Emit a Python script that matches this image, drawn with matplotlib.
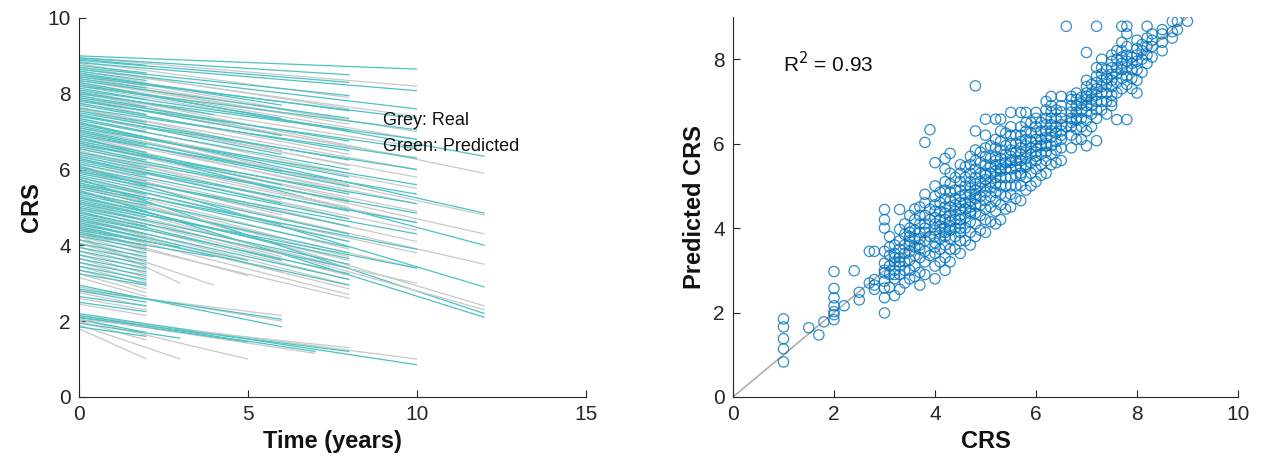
import matplotlib
matplotlib.use("Agg")
import matplotlib.pyplot as plt

plt.rcParams['font.family'] = ['Liberation Sans', 'DejaVu Sans']

# ---------------- Left panel data: per patient trajectories ----------------
end_time = [10, 8, 2, 8, 10, 2, 8, 10, 2, 6, 8, 10, 2, 8, 12, 6, 10, 2, 8, 4,
            10, 2, 8, 6, 10, 2, 8, 10, 2, 8, 6, 10, 2, 8, 12, 2, 8, 10, 6, 2,
            8, 10, 12, 2, 8, 6, 10, 2, 8, 10, 2, 8, 6, 10, 2, 8, 12, 2, 8, 10,
            2, 8, 6, 12, 2, 8, 10, 2, 8, 12, 2, 8, 6, 2, 8, 10, 2, 8, 2, 8,
            6, 2, 8, 2, 8, 2, 5, 2, 8, 2, 3, 2, 4, 2, 2, 2, 2, 2, 2, 2,
            2, 2, 2, 2, 6, 6, 2, 2, 2, 10, 7, 5, 2, 3, 2, 8]
pred_start = [9.00, 8.95, 8.92, 8.88, 8.82, 8.75, 8.70, 8.65, 8.60, 8.55,
              8.50, 8.45, 8.40, 8.35, 8.30, 8.25, 8.20, 8.15, 8.10, 8.05,
              8.00, 7.95, 7.90, 7.85, 7.80, 7.75, 7.70, 7.62, 7.55, 7.50,
              7.45, 7.40, 7.35, 7.30, 7.25, 7.20, 7.15, 7.10, 7.05, 7.00,
              6.95, 6.90, 6.85, 6.80, 6.75, 6.70, 6.65, 6.60, 6.55, 6.45,
              6.40, 6.35, 6.30, 6.25, 6.20, 6.15, 6.10, 6.05, 6.00, 5.95,
              5.90, 5.85, 5.80, 5.75, 5.70, 5.65, 5.60, 5.55, 5.50, 5.45,
              5.40, 5.35, 5.30, 5.25, 5.20, 5.15, 5.10, 5.05, 5.00, 4.95,
              4.90, 4.85, 4.80, 4.75, 4.70, 4.65, 4.60, 4.55, 4.50, 4.45,
              4.40, 4.35, 4.30, 4.25, 4.15, 4.05, 3.95, 3.85, 3.75, 3.65,
              3.55, 3.45, 3.35, 3.25, 2.95, 2.85, 2.80, 2.65, 2.50, 2.20,
              2.15, 2.10, 2.05, 1.95, 1.85, 2.10]
pred_end = [8.65, 8.50, 8.75, 8.30, 8.08, 8.55, 7.95, 7.60, 8.35, 7.70,
            7.55, 7.35, 8.15, 7.35, 6.35, 7.35, 7.05, 7.85, 7.05, 7.45,
            6.80, 7.65, 6.75, 6.90, 6.55, 7.45, 6.50, 6.30, 7.25, 6.25,
            6.40, 6.00, 7.00, 6.00, 4.85, 6.85, 5.80, 5.60, 5.95, 6.65,
            5.55, 5.35, 4.00, 6.45, 5.35, 5.60, 5.10, 6.25, 5.15, 4.85,
            6.05, 4.90, 5.10, 4.60, 5.85, 4.70, 2.90, 5.70, 4.50, 4.30,
            5.55, 4.30, 4.55, 2.20, 5.35, 4.10, 3.90, 5.20, 3.95, 2.10,
            5.05, 3.80, 4.00, 4.90, 3.65, 3.40, 4.75, 3.50, 4.65, 3.40,
            3.60, 4.50, 3.25, 4.40, 3.10, 4.30, 3.60, 4.20, 2.95, 4.10,
            3.95, 4.00, 3.70, 3.90, 3.80, 3.70, 3.60, 3.50, 3.40, 3.30,
            3.20, 3.10, 3.00, 2.95, 1.85, 2.05, 2.50, 2.40, 2.25, 0.85,
            1.20, 1.45, 1.70, 1.55, 1.60, 1.20]
real_start = [8.95, 8.85, 8.80, 8.70, 8.65, 8.60, 8.55, 8.45, 8.50, 8.40,
              8.35, 8.30, 8.25, 8.20, 8.10, 8.05, 8.00, 8.05, 7.95, 7.90,
              7.85, 7.85, 7.75, 7.65, 7.60, 7.60, 7.55, 7.45, 7.45, 7.35,
              7.25, 7.20, 7.25, 7.10, 7.10, 7.05, 7.00, 6.90, 6.85, 6.90,
              6.75, 6.70, 6.70, 6.65, 6.55, 6.50, 6.45, 6.50, 6.35, 6.25,
              6.30, 6.15, 6.10, 6.05, 6.05, 5.95, 5.95, 5.95, 5.80, 5.75,
              5.80, 5.65, 5.60, 5.60, 5.55, 5.45, 5.40, 5.45, 5.30, 5.30,
              5.25, 5.15, 5.10, 5.15, 5.00, 4.95, 5.00, 4.85, 4.90, 4.75,
              4.70, 4.75, 4.60, 4.65, 4.50, 4.55, 4.40, 4.45, 4.30, 4.35,
              4.25, 4.25, 4.15, 4.15, 4.05, 3.95, 3.85, 3.75, 3.65, 3.55,
              3.45, 3.35, 3.25, 3.15, 2.90, 2.80, 2.75, 2.60, 2.45, 2.15,
              2.10, 2.05, 2.00, 1.90, 1.80, 2.05]
real_end = [8.20, 7.90, 8.50, 7.60, 7.40, 8.30, 7.30, 7.00, 8.20, 7.50,
            7.20, 6.80, 7.95, 7.00, 5.90, 6.90, 6.60, 7.65, 6.60, 7.20,
            6.30, 7.45, 6.40, 6.50, 6.00, 7.20, 6.10, 5.80, 7.05, 5.90,
            6.00, 5.50, 6.80, 5.60, 4.80, 6.60, 5.40, 5.10, 5.60, 6.45,
            5.20, 4.90, 4.30, 6.20, 5.00, 5.20, 4.60, 6.00, 4.70, 4.40,
            5.80, 4.50, 4.80, 4.10, 5.60, 4.30, 3.50, 5.50, 4.10, 3.80,
            5.30, 3.90, 4.20, 2.40, 5.10, 3.70, 3.40, 4.95, 3.60, 2.30,
            4.80, 3.40, 3.70, 4.65, 3.20, 3.00, 4.50, 3.10, 4.40, 2.95,
            3.30, 4.25, 2.85, 4.15, 2.70, 4.05, 3.20, 3.95, 2.60, 3.85,
            3.00, 3.75, 2.95, 3.65, 3.55, 3.45, 3.35, 3.25, 3.15, 3.05,
            2.95, 2.85, 2.75, 2.65, 2.00, 2.15, 2.40, 2.30, 2.15, 1.00,
            1.15, 1.00, 1.50, 1.00, 1.00, 1.30]

# ---------------- Right panel data: real vs predicted CRS ----------------
crs_levels = [1.0, 1.5, 1.7, 1.8, 2.0, 2.2, 2.4, 2.5, 2.7, 2.8,
              3.0, 3.1, 3.2, 3.3, 3.4, 3.5, 3.6, 3.7, 3.8, 3.9,
              4.0, 4.1, 4.2, 4.3, 4.4, 4.5, 4.6, 4.7, 4.8, 4.9,
              5.0, 5.1, 5.2, 5.3, 5.4, 5.5, 5.6, 5.7, 5.8, 5.9,
              6.0, 6.1, 6.2, 6.3, 6.4, 6.5, 6.6, 6.7, 6.8, 6.9,
              7.0, 7.1, 7.2, 7.3, 7.4, 7.5, 7.6, 7.7, 7.8, 7.9,
              8.0, 8.1, 8.2, 8.3, 8.5, 8.7, 8.8, 9.0]
pred_by_level = [
    [0.83, 1.14, 1.38, 1.66, 1.85],
    [1.64],
    [1.47],
    [1.78],
    [1.83, 1.95, 2.02, 2.16, 2.35, 2.57, 2.97],
    [2.16],
    [2.99],
    [2.30, 2.48],
    [3.45, 2.70],
    [2.55, 2.78, 3.45, 2.65],
    [1.99, 2.35, 2.58, 2.74, 2.94, 3.17, 3.45, 3.00, 4.00, 4.20, 4.44],
    [2.60, 2.90, 3.10, 3.35, 3.55, 3.80],
    [2.40, 2.80, 3.00, 3.20, 3.40, 3.60, 3.30, 2.90],
    [2.55, 2.90, 3.10, 3.30, 3.50, 3.70, 3.97, 4.44, 3.20],
    [2.70, 3.00, 3.20, 3.40, 3.60, 3.85, 4.10],
    [2.80, 3.00, 3.25, 3.45, 3.60, 3.80, 4.00, 4.30, 3.90, 3.70],
    [2.85, 3.10, 3.35, 3.55, 3.75, 3.95, 4.20, 4.45],
    [2.65, 2.95, 3.30, 3.50, 3.75, 3.90, 4.10, 4.30, 4.50, 3.60],
    [2.90, 3.20, 3.45, 3.70, 3.90, 4.10, 4.30, 4.60, 4.80, 6.03, 4.00],
    [6.33, 3.80, 4.20, 4.45, 3.35],
    [2.80, 3.10, 3.40, 3.65, 3.80, 3.95, 4.10, 4.25, 4.40, 4.55, 4.75, 5.00, 5.55, 3.55],
    [3.20, 3.50, 3.75, 3.90, 4.05, 4.20, 4.40, 4.60, 4.85],
    [3.00, 3.30, 3.60, 3.80, 4.00, 4.20, 4.35, 4.50, 4.70, 4.90, 5.10, 5.40, 5.65, 3.90],
    [3.20, 3.50, 3.75, 3.95, 4.15, 4.30, 4.50, 4.65, 4.85, 5.05, 5.30, 5.77, 4.05],
    [3.50, 3.80, 4.00, 4.20, 4.40, 4.55, 4.70, 4.90, 5.20],
    [3.40, 3.70, 3.90, 4.10, 4.30, 4.45, 4.60, 4.75, 4.90, 5.10, 5.30, 5.50, 4.20, 4.00],
    [3.70, 4.00, 4.25, 4.45, 4.60, 4.80, 5.00, 5.20, 5.45],
    [3.60, 3.90, 4.15, 4.35, 4.50, 4.65, 4.80, 4.95, 5.10, 5.30, 5.50, 5.70, 4.40],
    [3.80, 4.10, 4.35, 4.55, 4.70, 4.90, 5.05, 5.20, 5.40, 5.60, 5.85, 6.30, 7.37, 4.80],
    [3.95, 4.30, 4.55, 4.75, 4.95, 5.10, 5.30, 5.55, 5.80],
    [3.90, 4.20, 4.45, 4.65, 4.85, 5.00, 5.15, 5.30, 5.50, 5.70, 5.90, 6.20, 6.58, 5.25],
    [4.15, 4.50, 4.75, 4.95, 5.10, 5.30, 5.45, 5.65, 5.95],
    [4.10, 4.40, 4.65, 4.85, 5.05, 5.20, 5.35, 5.50, 5.70, 5.90, 6.10, 6.58, 5.60],
    [4.20, 4.55, 4.80, 5.00, 5.20, 5.35, 5.50, 5.65, 5.85, 6.05, 6.30, 6.58, 5.40],
    [4.45, 4.75, 5.00, 5.20, 5.40, 5.55, 5.75, 5.95, 6.25],
    [4.50, 4.80, 5.00, 5.20, 5.40, 5.55, 5.70, 5.85, 6.00, 6.20, 6.40, 6.74, 5.60],
    [4.70, 5.00, 5.25, 5.45, 5.60, 5.80, 6.00, 6.20],
    [4.65, 5.00, 5.25, 5.45, 5.60, 5.75, 5.90, 6.05, 6.20, 6.40, 6.74, 5.30],
    [4.90, 5.20, 5.45, 5.65, 5.80, 5.95, 6.10, 6.30, 6.50, 6.74, 5.50],
    [5.00, 5.30, 5.55, 5.75, 5.90, 6.05, 6.25, 6.50],
    [5.10, 5.40, 5.60, 5.80, 5.95, 6.10, 6.25, 6.40, 6.60, 6.74, 5.70],
    [5.25, 5.50, 5.75, 5.95, 6.10, 6.30, 6.50],
    [5.30, 5.60, 5.80, 6.00, 6.15, 6.30, 6.45, 6.60, 6.80, 7.00, 5.95],
    [5.50, 5.75, 5.95, 6.15, 6.30, 6.45, 6.60, 6.75, 6.90, 7.12],
    [5.55, 5.85, 6.05, 6.25, 6.40, 6.60, 6.80],
    [5.60, 5.90, 6.10, 6.30, 6.45, 6.60, 6.75, 6.90, 7.12, 6.20],
    [8.78, 6.40],
    [5.90, 6.20, 6.40, 6.60, 6.75, 6.90, 7.05, 7.12, 6.50],
    [6.10, 6.35, 6.55, 6.75, 6.90, 7.05, 7.20, 6.60],
    [6.10, 6.40, 6.60, 6.80, 6.95, 7.10],
    [5.95, 6.30, 6.55, 6.75, 6.90, 7.05, 7.20, 7.35, 7.50, 8.16, 7.12],
    [6.40, 6.70, 6.90, 7.05, 7.20, 7.40],
    [6.07, 6.60, 6.80, 7.00, 7.15, 7.30, 7.45, 7.60, 7.80, 8.78],
    [6.80, 7.00, 7.20, 7.35, 7.50, 7.65, 7.80, 8.00],
    [6.70, 7.00, 7.20, 7.40, 7.55, 7.75],
    [6.90, 7.15, 7.35, 7.50, 7.65, 7.80, 7.95, 8.10, 7.00],
    [6.57, 7.20, 7.45, 7.65, 7.80, 8.00, 8.20],
    [7.30, 7.55, 7.75, 7.90, 8.05, 8.20, 8.40, 8.78],
    [6.57, 7.40, 7.60, 7.80, 7.95, 8.10, 8.30, 8.60, 8.78],
    [7.30, 7.55, 7.75, 7.90, 8.05],
    [7.50, 7.75, 7.95, 8.10, 8.25, 8.45, 7.20],
    [7.69, 8.00, 8.20, 8.35],
    [7.90, 8.10, 8.30, 8.50, 8.78],
    [8.05, 8.30, 8.45, 8.60],
    [8.20, 8.40, 8.60, 8.70],
    [8.50, 8.65, 8.90],
    [8.90, 8.70],
    [8.90],
]
r2_text = "R$^2$ = 0.93"

TEAL = '#4CC2C2'
GREY = '#C9C9C9'
BLUE = '#0072BD'
AX = '#262626'

fig = plt.figure(figsize=(12.64, 4.73), dpi=100)
ax1 = fig.add_axes([0.0625, 0.1607, 0.4011, 0.8013])
ax2 = fig.add_axes([0.5799, 0.1607, 0.3995, 0.8034])

for i in range(len(end_time)):
    ax1.plot([0, end_time[i]], [real_start[i], real_end[i]], color=GREY, lw=0.9, solid_capstyle='butt')
    ax1.plot([0, end_time[i]], [pred_start[i], pred_end[i]], color=TEAL, lw=0.9, solid_capstyle='butt')

ax1.set_xlim(0, 15)
ax1.set_ylim(0, 10)
ax1.set_xticks([0, 5, 10, 15])
ax1.set_yticks([0, 2, 4, 6, 8, 10])
ax1.set_xlabel('Time (years)', fontsize=17, fontweight='bold', color='#111111', labelpad=4)
ax1.set_ylabel('CRS', fontsize=17, fontweight='bold', color='#111111', labelpad=3)
ax1.text(9.0, 7.3, 'Grey: Real', fontsize=13, color='#111111', ha='left', va='center')
ax1.text(9.0, 6.62, 'Green: Predicted', fontsize=13, color='#111111', ha='left', va='center')

xs, ys = [], []
for lvl, preds in zip(crs_levels, pred_by_level):
    for p in preds:
        xs.append(lvl)
        ys.append(p)
ax2.plot([0, 9], [0, 9], color='#AFAFAF', lw=1.2, zorder=1)
ax2.scatter(xs, ys, s=55, facecolors='none', edgecolors=BLUE, linewidths=0.9, alpha=0.8, zorder=2)
ax2.set_xlim(0, 10)
ax2.set_ylim(0, 9)
ax2.set_xticks([0, 2, 4, 6, 8, 10])
ax2.set_yticks([0, 2, 4, 6, 8])
ax2.set_xlabel('CRS', fontsize=17, fontweight='bold', color='#111111', labelpad=4)
ax2.set_ylabel('Predicted CRS', fontsize=17, fontweight='bold', color='#111111', labelpad=5)
ax2.text(1.0, 7.9, r2_text, fontsize=15, color='#111111', ha='left', va='center')

for ax in (ax1, ax2):
    for s in ('top', 'right'):
        ax.spines[s].set_visible(False)
    for s in ('left', 'bottom'):
        ax.spines[s].set_color(AX)
        ax.spines[s].set_linewidth(0.8)
    ax.tick_params(direction='in', length=5, width=0.8, colors=AX, labelsize=15, pad=6)

fig.savefig('out.png', dpi=100)
